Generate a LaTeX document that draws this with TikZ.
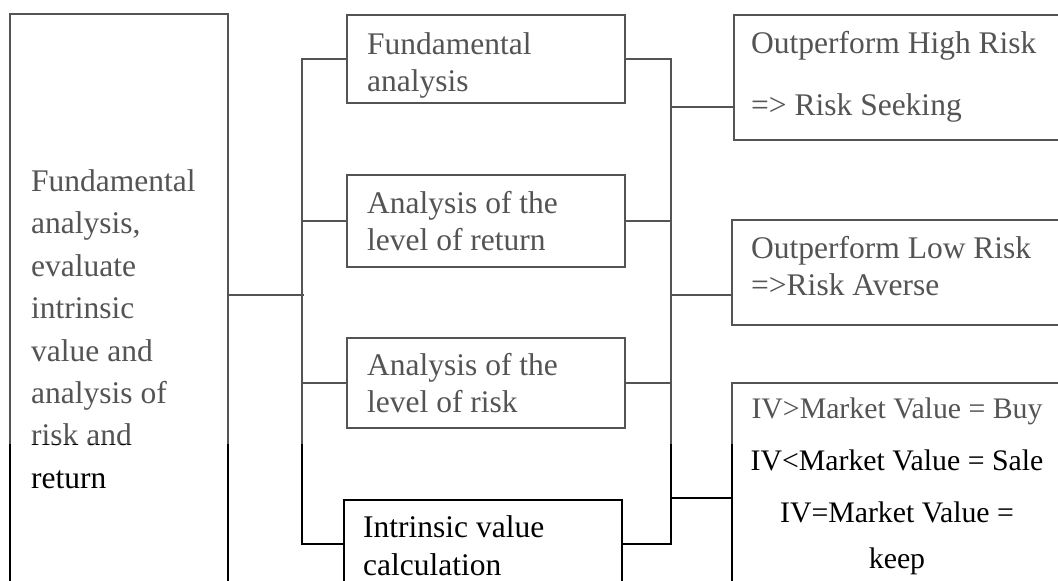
\documentclass[tikz,border=0pt]{standalone}
\usepackage{fontspec}
\setmainfont{Liberation Serif}
\begin{document}
\begin{tikzpicture}[x=1pt,y=-1pt,
  box/.style={draw, line width=1.5pt, inner sep=0pt, anchor=north west},
  txt/.style={anchor=base west, inner sep=0pt, font=\fontsize{31.5}{38}\selectfont},
  ctxt/.style={anchor=base, inner sep=0pt, font=\fontsize{29.8}{36}\selectfont},
  link/.style={line width=1.5pt}]
\useasboundingbox (0,0) rectangle (1058,581);
\clip (0,0) rectangle (1058,581);
\fill[white] (0,0) rectangle (1058,581);

% boxes
\node[box, minimum width=218pt, minimum height=620pt] (L) at (9,13) {};
\node[box, minimum width=278pt, minimum height=88pt] (M1) at (346,14) {};
\node[box, minimum width=278pt, minimum height=92pt] (M2) at (346,174) {};
\node[box, minimum width=278pt, minimum height=90pt] (M3) at (346,337) {};
\node[box, minimum width=278pt, minimum height=150pt] (M4) at (343,499) {};
\node[box, minimum width=360pt, minimum height=125pt] (R1) at (733,14) {};
\node[box, minimum width=360pt, minimum height=105pt] (R2) at (731,219) {};
\node[box, minimum width=360pt, minimum height=250pt] (R3) at (731,382) {};

% junction coordinates
\coordinate (lj) at (304,295);
\coordinate (lb) at (302,544);
\coordinate (rb) at (671,544);
\coordinate (r1) at (671,107);
\coordinate (r2) at (671,295);
\coordinate (r3) at (671,498);

% left connectors
\draw[link] (L.east |- lj) -- (lj);
\draw[link] (M1.west) -| (lb) -- (lb -| M4.west);
\draw[link] (M2.west) -- (M2.west -| lb);
\draw[link] (M3.west) -- (M3.west -| lb);
% right connectors
\draw[link] (M1.east) -| (rb) -- (rb -| M4.east);
\draw[link] (M2.east) -- (M2.east -| rb);
\draw[link] (M3.east) -- (M3.east -| rb);
\draw[link] (r1) -- (r1 -| R1.west);
\draw[link] (r2) -- (r2 -| R2.west);
\draw[link] (r3) -- (r3 -| R3.west);

% left box text
\node[txt] (l1) at (31,191) {Fundamental};
\node[txt] (l2) at (31,233) {analysis,};
\node[txt] (l3) at (31,276) {evaluate};
\node[txt] (l4) at (31,318) {intrinsic};
\node[txt] (l5) at (31,361) {value and};
\node[txt] (l6) at (31,403) {analysis of};
\node[txt] (l7) at (31,445) {risk and};
\node[txt] (l8) at (31,488) {return};

% middle texts
\begin{scope}
\clip (M1.north west) rectangle (M1.south east);
\node[txt] (m1a) at (367,54) {Fundamental};
\node[txt] (m1b) at (367,91) {analysis};
\end{scope}
\node[txt] (m2a) at (367,213) {Analysis of the};
\node[txt] (m2b) at (367,250) {level of return};
\node[txt] (m3a) at (367,375) {Analysis of the};
\node[txt] (m3b) at (367,412) {level of risk};
\node[txt] (m4a) at (363,537) {Intrinsic value};
\node[txt] (m4b) at (363,575) {calculation};

% right texts
\node[txt] (r1a) at (751,53) {Outperform High Risk};
\node[txt] (r1b) at (751,115) {=> Risk Seeking};
\node[txt] (r2a) at (751,258) {Outperform Low Risk};
\node[txt] (r2b) at (751,295) {=>Risk Averse};
\node[ctxt] (r3a) at (897,418) {IV>Market Value = Buy};
\node[ctxt] (r3b) at (897,470) {IV<Market Value = Sale};
\node[ctxt] (r3c) at (897,522) {IV=Market Value =};
\node[ctxt] (r3d) at (897,568) {keep};

% scan tone: upper part lighter
\fill[white, opacity=0.33] (0,0) rectangle (1058,444);
\end{tikzpicture}
\end{document}
